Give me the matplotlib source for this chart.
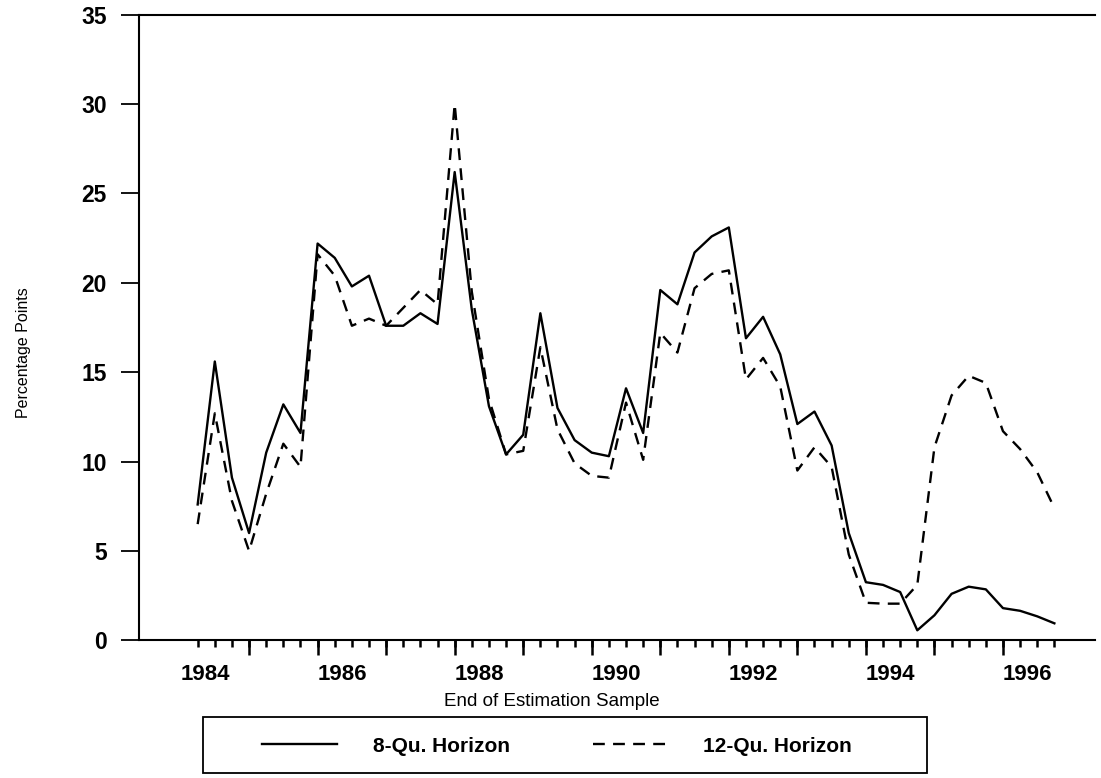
import numpy as np
import matplotlib.pyplot as plt
from matplotlib.patches import Rectangle
from matplotlib.lines import Line2D

plt.rcParams['font.family'] = ['Liberation Sans', 'DejaVu Sans']

# end of estimation sample, quarterly 1984Q2 .. 1996Q4
quarters = np.arange(1984.25, 1996.76, 0.25)

h8 = [7.6, 15.6, 9.1, 6.0, 10.5, 13.2, 11.6, 22.2, 21.4, 19.8,
      20.4, 17.6, 17.6, 18.3, 17.7, 26.2, 18.5, 13.1, 10.4, 11.5,
      18.3, 13.0, 11.2, 10.5, 10.3, 14.1, 11.6, 19.6, 18.8, 21.7,
      22.6, 23.1, 16.9, 18.1, 16.0, 12.1, 12.8, 10.9, 6.0, 3.25,
      3.1, 2.7, 0.56, 1.4, 2.6, 3.0, 2.85, 1.8, 1.65, 1.34, 0.95]

h12 = [6.5, 12.7, 7.8, 5.0, 8.2, 11.0, 9.7, 21.6, 20.4, 17.6,
       18.0, 17.6, 18.6, 19.6, 18.8, 30.0, 19.5, 13.5, 10.4, 10.6,
       16.4, 11.8, 9.9, 9.2, 9.1, 13.3, 10.1, 17.2, 16.1, 19.7,
       20.5, 20.7, 14.6, 15.8, 14.2, 9.5, 10.8, 9.7, 4.8, 2.1,
       2.05, 2.05, 3.1, 10.8, 13.7, 14.8, 14.4, 11.7, 10.7, 9.4, 7.4]

years = list(range(1985, 1997))
label_years = [1984, 1986, 1988, 1990, 1992, 1994, 1996]

fig = plt.figure(figsize=(11.01, 7.78), dpi=100)
ax = fig.add_axes([0.126, 0.177, 0.869, 0.804])

ax.plot(quarters, h8, color='black', lw=1.7, label='8-Qu. Horizon')
ax.plot(quarters, h12, color='black', lw=1.7, ls=(0, (5, 3.5)), label='12-Qu. Horizon')

ax.set_xlim(1983.39, 1997.35)
ax.set_ylim(0, 35)
ax.set_yticks(range(0, 36, 5))
ax.tick_params(axis='y', direction='out', length=13, width=1.3, labelsize=16.5, pad=10)
for t in ax.get_yticklabels():
    t.set_fontweight('bold')

# year labels sit inside each year's span
ax.set_xticks([y + 0.36 for y in label_years])
ax.set_xticklabels([str(y) for y in label_years], fontsize=16, fontweight='bold')
ax.tick_params(axis='x', which='major', length=0, pad=17)
ax.set_xticks(quarters, minor=True)
ax.tick_params(axis='x', which='minor', direction='out', length=5, width=1.8)

sec = ax.secondary_xaxis('bottom')
sec.set_xticks(years)
sec.set_xticklabels([])
sec.tick_params(length=11, width=1.8, direction='out')
sec.spines['bottom'].set_visible(False)

ax.spines['right'].set_visible(False)
for s in ['left', 'bottom', 'top']:
    ax.spines[s].set_linewidth(1.5)

ax.set_ylabel('Percentage Points', fontsize=11.5)
ax.yaxis.set_label_coords(-0.113, 0.46)
ax.set_xlabel('End of Estimation Sample', fontsize=13.5)
ax.xaxis.set_label_coords(0.432, -0.084)

# legend box below the axis title
fig.patches.append(Rectangle((0.184, 0.007), 0.658, 0.072, transform=fig.transFigure,
                             fill=False, edgecolor='black', lw=1.3))
handles = [Line2D([], [], color='black', lw=1.7),
           Line2D([], [], color='black', lw=1.7, ls=(0, (5, 3.5)))]
fig.legend(handles, ['8-Qu. Horizon', '12-Qu. Horizon'], loc='center',
           bbox_to_anchor=(0.506, 0.041), ncol=2, frameon=False,
           handlelength=3.6, handletextpad=1.7, columnspacing=4.0,
           prop={'size': 15, 'weight': 'bold'})

fig.savefig('out.png', dpi=100)
